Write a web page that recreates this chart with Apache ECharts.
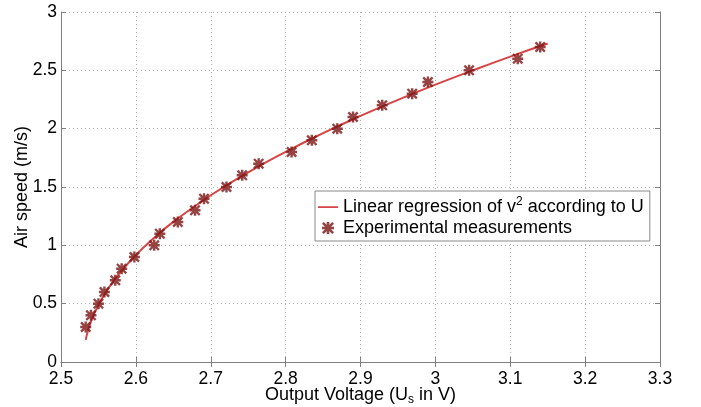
<!DOCTYPE html>
<html>
<head>
<meta charset="utf-8">
<script src="https://cdn.jsdelivr.net/npm/echarts@6/dist/echarts.min.js"></script>
<style>html,body{margin:0;padding:0;background:#fff}#c{width:701px;height:407px}</style>
</head>
<body>
<div id="c"></div>
<script>
// Experimental measurements (Output voltage in V, Air speed in m/s)
const measVoltage = [2.533, 2.540, 2.550, 2.558, 2.5725, 2.581, 2.598, 2.6245, 2.632, 2.656, 2.679, 2.691, 2.721, 2.742, 2.764, 2.808, 2.835, 2.869, 2.890, 2.929, 2.969, 2.990, 3.045, 3.110, 3.140];
const measSpeed   = [0.3, 0.4, 0.5, 0.6, 0.7, 0.8, 0.9, 1.0, 1.1, 1.2, 1.3, 1.4, 1.5, 1.6, 1.7, 1.8, 1.9, 2.0, 2.1, 2.2, 2.3, 2.4, 2.5, 2.6, 2.7];
// Regression curve
const fitVoltage = [2.533, 2.535, 2.54, 2.55, 2.56, 2.57, 2.58, 2.60, 2.62, 2.65, 2.70, 2.75, 2.80, 2.85, 2.90, 2.95, 3.00, 3.05, 3.10, 3.15];
const fitSpeed   = [0.19, 0.245, 0.347, 0.49, 0.60, 0.693, 0.775, 0.917, 1.04, 1.201, 1.429, 1.626, 1.801, 1.961, 2.109, 2.247, 2.377, 2.50, 2.618, 2.73];

const FONT = 'Liberation Sans, Arial, Helvetica, sans-serif';
const star = 'path://M0,3.9 L10,3.9 L10,6.1 L0,6.1 Z M3.9,0 L6.1,0 L6.1,10 L3.9,10 Z M1.5,0 L10,8.5 L8.5,10 L0,1.5 Z M8.5,0 L10,1.5 L1.5,10 L0,8.5 Z';
const lineIcon = 'path://M0,0 L20,0 M0,5.3 L20,5.3 L20,6.9 L0,6.9 Z M0,12 L20,12';
const chart = echarts.init(document.getElementById('c'), null, {renderer: 'canvas'});
const axisCommon = {
  axisLine: {show: true, lineStyle: {color: '#808080', width: 1}},
  axisTick: {show: true, inside: true, length: 5, lineStyle: {color: '#808080'}},
};
chart.setOption({
  animation: false,
  backgroundColor: '#fff',
  grid: {left: 61, right: 41, top: 12, bottom: 45, containLabel: false, outerBoundsMode: 'none'},
  legend: {
    left: 315, top: 191,
    orient: 'vertical',
    backgroundColor: '#fff',
    borderColor: '#888', borderWidth: 1,
    padding: [5, 6, 4, 3],
    itemGap: 3,
    itemWidth: 20, itemHeight: 12,
    textStyle: {fontFamily: FONT, fontSize: 18, color: '#000',
      rich: {
        a: {fontFamily: FONT, fontSize: 18, color: '#000'},
        sup: {fontFamily: FONT, fontSize: 12, color: '#000', padding: [0, 0, 10, 0]}
      }},
    formatter: function (name) {
      if (name.indexOf('Linear') === 0) return '{a|Linear regression of v}{sup|2}{a| according to U}';
      return '{a|' + name + '}';
    },
    data: [{name: 'Linear regression of v2 according to U', icon: lineIcon}, {name: 'Experimental measurements'}]
  },
  xAxis: [{
    type: 'value', min: 2.5, max: 3.3, interval: 0.1, position: 'bottom',
    ...axisCommon,
    axisLabel: {fontFamily: FONT, fontSize: 17.5, color: '#000', margin: 8},
    splitLine: {show: true, lineStyle: {color: '#b0b0b0', type: [1, 3], width: 1}},
    name: 'Output Voltage (U{sub|s} in V)', nameLocation: 'middle', nameGap: 22, nameMoveOverlap: false,
    nameTextStyle: {fontFamily: FONT, fontSize: 18, color: '#000',
      rich: {sub: {fontFamily: FONT, fontSize: 12, color: '#000', padding: [10, 0, 0, 0]}}}
  }, {
    type: 'value', min: 2.5, max: 3.3, interval: 0.1, position: 'top',
    ...axisCommon, axisLabel: {show: false}, splitLine: {show: false}
  }],
  yAxis: [{
    type: 'value', min: 0, max: 3, interval: 0.5, position: 'left',
    ...axisCommon,
    axisLabel: {fontFamily: FONT, fontSize: 17.5, color: '#000', margin: 4},
    splitLine: {show: true, lineStyle: {color: '#b0b0b0', type: [1, 3], width: 1}},
    name: 'Air speed (m/s)', nameLocation: 'middle', nameGap: 30, nameRotate: 90, nameMoveOverlap: false,
    nameTextStyle: {fontFamily: FONT, fontSize: 18, color: '#000'}
  }, {
    type: 'value', min: 0, max: 3, interval: 0.5, position: 'right',
    ...axisCommon, axisLabel: {show: false}, splitLine: {show: false}
  }],
  series: [{
    name: 'Linear regression of v2 according to U',
    type: 'line', smooth: true, symbol: 'none',
    lineStyle: {color: '#d84444', width: 2},
    itemStyle: {color: '#d84444'},
    data: fitVoltage.map((v, i) => [v, fitSpeed[i]]),
    z: 2
  }, {
    name: 'Experimental measurements',
    type: 'scatter', symbol: star, symbolSize: 11,
    itemStyle: {color: '#7a1414'},
    data: measVoltage.map((v, i) => [v, measSpeed[i]]),
    z: 3
  }]
});
</script>
</body>
</html>
